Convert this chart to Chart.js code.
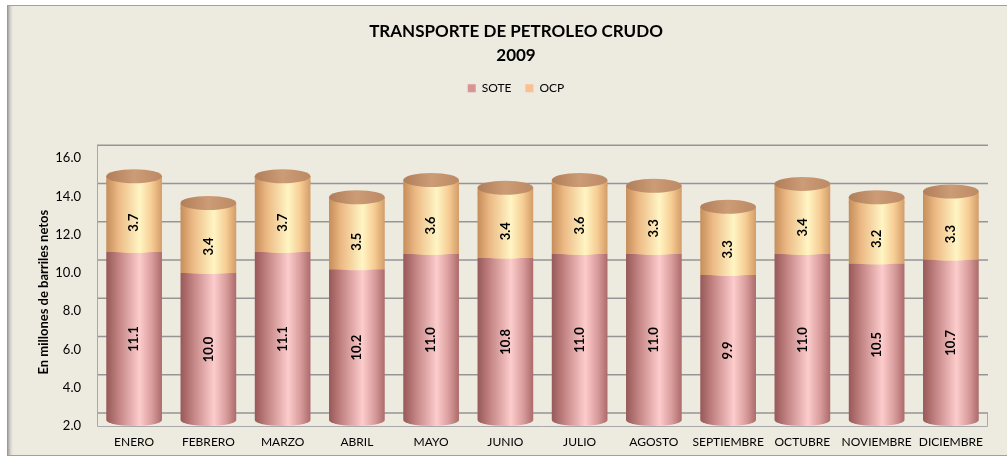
<!DOCTYPE html>
<html>
<head>
<meta charset="utf-8">
<script src="https://cdn.jsdelivr.net/npm/chart.js@4.4.1/dist/chart.umd.min.js"></script>
<style>
  html, body { margin: 0; padding: 0; background: #fff; }
  #wrap { width: 1007px; height: 459px; }
</style>
</head>
<body>
<div id="wrap"><canvas id="grafica"></canvas></div>
<script>
const meses = ["ENERO", "FEBRERO", "MARZO", "ABRIL", "MAYO", "JUNIO", "JULIO",
    "AGOSTO", "SEPTIEMBRE", "OCTUBRE", "NOVIEMBRE", "DICIEMBRE"];
const sote = [11.1, 10.0, 11.1, 10.2, 11.0, 10.8, 11.0, 11.0, 9.9, 11.0, 10.5, 10.7];
const ocp = [3.7, 3.4, 3.7, 3.5, 3.6, 3.4, 3.6, 3.3, 3.3, 3.4, 3.2, 3.3];
const nombresSeries = ["SOTE", "OCP"];
const coloresLeyenda = ["#D99594", "#FAC090"];
const ejeMin = 2;
const ejeMax = 16;
const ejePaso = 2;

const PROF = 13; // profundidad del efecto 3D (px)
const FUENTE = "Lato, 'Open Sans', sans-serif";

const paradasSote = [[0, "#975858"], [0.22, "#C28282"], [0.6, "#FDCCCC"], [0.82, "#D99C9C"], [1, "#AD6B6B"]];
const paradasOcp = [[0, "#C58D5A"], [0.22, "#ECB984"], [0.6, "#FFF5C4"], [0.82, "#F6CC93"], [1, "#D39C68"]];
const paradasTapa = [[0, "#B07E58"], [0.5, "#CC9C76"], [1, "#BC8A64"]];

function degradado(ctx, x, w, paradas) {
    const g = ctx.createLinearGradient(x - w / 2, 0, x + w / 2, 0);
    paradas.forEach(p => g.addColorStop(p[0], p[1]));
    return g;
}

function colorBarra(paradas, plano) {
    return (c) => {
        const chart = c.chart;
        const ejeX = chart.scales.x;
        if (!chart.chartArea || !ejeX || c.type !== "data") return plano;
        const ancho = (ejeX.width / meses.length) * 0.75;
        return degradado(chart.ctx, ejeX.getPixelForValue(c.dataIndex), ancho, paradas);
    };
}

const marco = {
    id: "marco",
    beforeDraw(chart) {
        const { ctx, width, height } = chart;
        ctx.save();
        ctx.fillStyle = "#fff";
        ctx.fillRect(0, 0, width, height);
        ctx.fillStyle = "#EDEAE0";
        ctx.fillRect(8, 6, width - 8, height - 10);
        const g = ctx.createLinearGradient(7, 0, 14, 0);
        g.addColorStop(0, "#8A8A8A");
        g.addColorStop(1, "rgba(237,234,224,0)");
        ctx.fillStyle = g;
        ctx.fillRect(7, 6, 7, height - 10);
        ctx.strokeStyle = "#A0A0A0";
        ctx.lineWidth = 1;
        ctx.beginPath();
        ctx.moveTo(7, 5.5); ctx.lineTo(width, 5.5);
        ctx.moveTo(7, height - 3.5); ctx.lineTo(width, height - 3.5);
        ctx.stroke();
        ctx.restore();
    }
};

const fondo3d = {
    id: "fondo3d",
    beforeDatasetsDraw(chart) {
        const { ctx, chartArea: a, scales: { y } } = chart;
        ctx.save();
        ctx.strokeStyle = "#959595";
        ctx.lineWidth = 1.5;
        ctx.beginPath();
        y.ticks.forEach(t => {
            const py = y.getPixelForValue(t.value) - PROF;
            ctx.moveTo(a.left, py);
            ctx.lineTo(a.right, py);
        });
        ctx.stroke();
        ctx.strokeStyle = "#A8A8A8";
        ctx.lineWidth = 1;
        ctx.beginPath();
        ctx.moveTo(a.left + 0.5, y.getPixelForValue(ejeMax) - PROF);
        ctx.lineTo(a.left + 0.5, a.bottom + 0.5);
        ctx.lineTo(a.right - 0.5, a.bottom + 0.5);
        ctx.lineTo(a.right - 0.5, a.bottom - PROF);
        ctx.stroke();
        ctx.restore();
    }
};

const cilindros = {
    id: "cilindros",
    afterDatasetsDraw(chart) {
        const { ctx, chartArea: a } = chart;
        const mS = chart.getDatasetMeta(0);
        const mO = chart.getDatasetMeta(1);
        const suelo = a.bottom - 6;
        ctx.save();
        mS.data.forEach((barS, i) => {
            const barO = mO.data[i];
            const x = barS.x, w = barS.width, r = w / 2;
            // base curva del SOTE
            ctx.fillStyle = degradado(ctx, x, w, paradasSote);
            ctx.beginPath();
            ctx.ellipse(x, suelo, r, 6, 0, 0, Math.PI);
            ctx.fill();
            // curva inferior del OCP
            ctx.fillStyle = degradado(ctx, x, w, paradasOcp);
            ctx.beginPath();
            ctx.ellipse(x, barO.base - 2, r, 3, 0, 0, Math.PI);
            ctx.fill();
            // lado superior + tapa
            const cy = barO.y - 5;
            ctx.fillRect(x - r, cy, w, 6);
            ctx.fillStyle = degradado(ctx, x, w, paradasTapa);
            ctx.beginPath();
            ctx.ellipse(x, cy, r, 7, 0, 0, Math.PI * 2);
            ctx.fill();
        });

        ctx.fillStyle = "#000";
        ctx.font = "bold 13px " + FUENTE;
        ctx.textAlign = "center";
        ctx.textBaseline = "middle";
        [mS, mO].forEach((meta, d) => {
            meta.data.forEach((bar, i) => {
                const valor = chart.data.datasets[d].data[i];
                const arriba = Math.max(bar.y, a.top);
                const abajo = Math.min(bar.base, a.bottom);
                const ym = (arriba + abajo) / 2 + (d === 1 ? 6 : 0);
                ctx.save();
                ctx.translate(bar.x, ym);
                ctx.rotate(-Math.PI / 2);
                ctx.fillText(valor.toFixed(1), 0, 0);
                ctx.restore();
            });
        });
        ctx.restore();
    }
};

const ctx = document.getElementById("grafica");

new Chart(ctx, {
    type: "bar",
    data: {
        labels: meses,
        datasets: [
            {
                label: nombresSeries[0],
                data: sote,
                backgroundColor: colorBarra(paradasSote, coloresLeyenda[0]),
                borderWidth: 0,
                clip: { left: 0, top: 0, right: 0, bottom: -6 }
            },
            {
                label: nombresSeries[1],
                data: ocp,
                backgroundColor: colorBarra(paradasOcp, coloresLeyenda[1]),
                borderWidth: 0
            }
        ]
    },
    options: {
        responsive: true,
        maintainAspectRatio: false,
        animation: false,
        datasets: { bar: { categoryPercentage: 1, barPercentage: 0.75 } },
        layout: { padding: { top: 19, left: 44, right: 19, bottom: 10 } },
        plugins: {
            tooltip: { enabled: false },
            title: {
                display: true,
                text: ["TRANSPORTE DE PETROLEO CRUDO", "2009"],
                color: "#000",
                font: { family: FUENTE, size: 17, weight: "bold", lineHeight: 1.45 },
                padding: { top: 0, bottom: 0 }
            },
            legend: {
                display: true,
                position: "top",
                weight: 1000,
                labels: {
                    color: "#000",
                    boxWidth: 8,
                    boxHeight: 8,
                    padding: 14,
                    font: { family: FUENTE, size: 12 },
                    generateLabels: (chart) => nombresSeries.map((n, i) => ({
                        text: n,
                        fillStyle: coloresLeyenda[i],
                        strokeStyle: coloresLeyenda[i],
                        lineWidth: 0,
                        hidden: !chart.isDatasetVisible(i),
                        datasetIndex: i
                    }))
                }
            },
            subtitle: {
                display: true,
                text: "",
                position: "top",
                weight: 500,
                font: { size: 10, lineHeight: 1 },
                padding: { top: 0, bottom: 44 }
            }
        },
        scales: {
            x: {
                stacked: true,
                grid: { display: false, drawTicks: false },
                border: { display: false },
                ticks: {
                    color: "#000",
                    padding: 9,
                    maxRotation: 0,
                    minRotation: 0,
                    autoSkip: false,
                    font: { family: FUENTE, size: 12 }
                },
                afterFit: (s) => { s.height = 23; }
            },
            y: {
                stacked: true,
                min: ejeMin,
                max: ejeMax,
                grid: { display: false, drawTicks: false },
                border: { display: false },
                ticks: {
                    stepSize: ejePaso,
                    color: "#000",
                    padding: 16,
                    font: { family: FUENTE, size: 13 },
                    callback: (v) => Number(v).toFixed(1)
                },
                title: {
                    display: true,
                    text: "En millones de barriles netos",
                    color: "#000",
                    font: { family: FUENTE, size: 13, weight: "bold" },
                    padding: { top: -8, bottom: 0 }
                },
                afterFit: (s) => { s.width = 53; }
            }
        }
    },
    plugins: [marco, fondo3d, cilindros]
});
</script>
</body>
</html>
